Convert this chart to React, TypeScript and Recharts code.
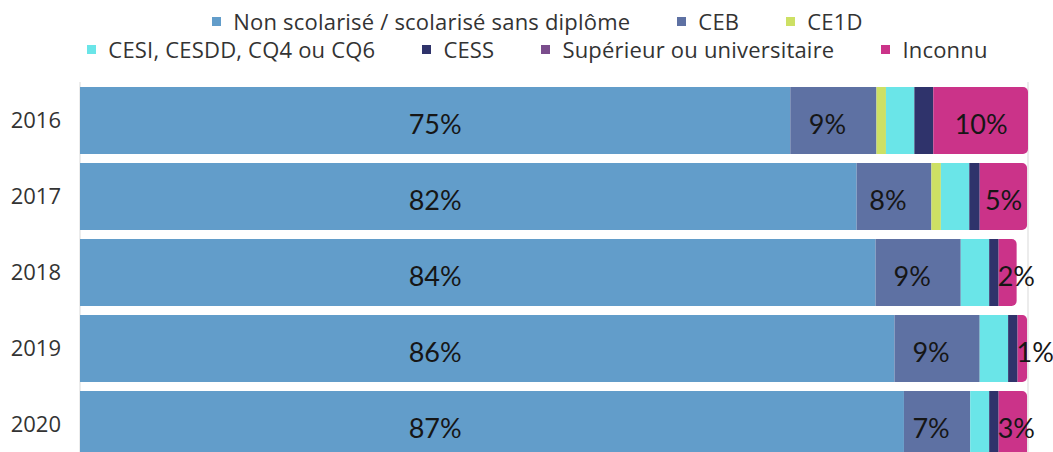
import { Fragment } from "react";
import { Bar, BarChart, CartesianGrid, LabelList, Legend, XAxis, YAxis } from "recharts";

const YEARS = ["2016", "2017", "2018", "2019", "2020"];

const NON_SCOLARISE = [75.0, 82.0, 84.0, 86.0, 87.0];
const CEB = [9.1, 7.9, 9.0, 9.0, 7.0];
const CE1D = [1.0, 1.0, 0, 0, 0];
const CESI = [3.0, 3.0, 3.0, 3.0, 2.0];
const CESS = [2.0, 1.1, 1.0, 1.0, 1.0];
const SUPERIEUR = [0, 0, 0, 0, 0];
const INCONNU = [10.0, 5.0, 1.9, 1.0, 3.0];

const X_TICKS = [0, 25, 50, 75, 100];

type LabelMode = "none" | "common" | "center" | "fit";
type Series = { key: string; name: string; color: string; values: number[]; label: LabelMode };

const SERIES: Series[] = [
  { key: "nonScol", name: "Non scolarisé / scolarisé sans diplôme", color: "#629dca", values: NON_SCOLARISE, label: "common" },
  { key: "ceb", name: "CEB", color: "#5e71a3", values: CEB, label: "center" },
  { key: "ce1d", name: "CE1D", color: "#cde064", values: CE1D, label: "none" },
  { key: "cesi", name: "CESI, CESDD, CQ4 ou CQ6", color: "#6ae5e8", values: CESI, label: "none" },
  { key: "cess", name: "CESS", color: "#2f336b", values: CESS, label: "none" },
  { key: "sup", name: "Supérieur ou universitaire", color: "#7a4d8c", values: SUPERIEUR, label: "none" },
  { key: "inconnu", name: "Inconnu", color: "#cb3389", values: INCONNU, label: "fit" },
];

// legend wraps after the third entry
const LEGEND_BREAK_AFTER = "ce1d";

const rows = YEARS.map((year, i) => {
  const row: Record<string, string | number> = { year };
  SERIES.forEach((s) => {
    row[s.key] = s.values[i];
  });
  return row;
});

const LABEL_FONT = { fontFamily: "Lato, sans-serif", fontSize: 27, fill: "#161616" };
const pct = (v: unknown) => `${Math.round(Number(v))}%`;

function TopLegend() {
  return (
    <div
      style={{
        height: 82,
        boxSizing: "border-box",
        paddingTop: 7,
        paddingLeft: 22,
        display: "flex",
        flexWrap: "wrap",
        justifyContent: "center",
        alignContent: "flex-start",
        columnGap: 47,
        fontFamily: "'Open Sans', sans-serif",
        fontSize: 22,
        letterSpacing: 0.2,
        lineHeight: "28px",
        color: "#333",
      }}
    >
      {SERIES.map((s) => (
        <Fragment key={s.key}>
          <div style={{ display: "flex", alignItems: "center", whiteSpace: "nowrap" }}>
            <span style={{ width: 9, height: 9, background: s.color, marginRight: 12, display: "inline-block" }} />
            <span>{s.name}</span>
          </div>
          {s.key === LEGEND_BREAK_AFTER && <div style={{ flexBasis: "100%", height: 0 }} />}
        </Fragment>
      ))}
    </div>
  );
}

type LabelProps = { x?: number; y?: number; width?: number; height?: number; value?: number | string };

// first series: every label sits in the middle of the shortest bar's span
function CommonLabel(props: LabelProps) {
  const { x = 0, y = 0, width = 0, height = 0, value } = props;
  const v = Number(value);
  if (!v) return null;
  const minValue = Math.min(...NON_SCOLARISE);
  const cx = x + ((width / v) * minValue) / 2;
  return (
    <text x={cx} y={y + height / 2 + 3} textAnchor="middle" dominantBaseline="central" style={LABEL_FONT}>
      {pct(v)}
    </text>
  );
}

function CenterLabel(props: LabelProps) {
  const { x = 0, y = 0, width = 0, height = 0, value } = props;
  if (!Number(value)) return null;
  return (
    <text x={x + width / 2 - 6} y={y + height / 2 + 3} textAnchor="middle" dominantBaseline="central" style={LABEL_FONT}>
      {pct(value)}
    </text>
  );
}

// last series: centred, but never starting left of the segment
function FitLabel(props: LabelProps) {
  const { x = 0, y = 0, width = 0, height = 0, value } = props;
  if (!Number(value)) return null;
  const text = pct(value);
  const textWidth = (text.length - 1) * 15 + 22;
  const start = Math.max(x - 1, x + width / 2 - textWidth / 2);
  return (
    <text x={start} y={y + height / 2 + 3} textAnchor="start" dominantBaseline="central" style={LABEL_FONT}>
      {text}
    </text>
  );
}

export default function App() {
  return (
    <div style={{ position: "absolute", left: 0, top: 0, background: "#fff" }}>
      <BarChart
        width={1053}
        height={462}
        data={rows}
        layout="vertical"
        margin={{ top: 0, right: 25, bottom: 0, left: 0 }}
        barSize={67}
      >
        <CartesianGrid horizontal={false} stroke="#d9d9d9" />
        <XAxis
          type="number"
          domain={[0, 100]}
          ticks={X_TICKS}
          tick={false}
          axisLine={false}
          tickLine={false}
          height={0}
        />
        <YAxis
          type="category"
          dataKey="year"
          width={80}
          axisLine={false}
          tickLine={false}
          tickSize={0}
          tickMargin={19}
          tick={{ fontFamily: "'Open Sans', sans-serif", fontSize: 22, fill: "#333" }}
        />
        <Legend verticalAlign="top" wrapperStyle={{ top: 0, left: 0, width: 1053 }} content={() => <TopLegend />} />
        {SERIES.map((s) => (
          <Bar
            key={s.key}
            dataKey={s.key}
            name={s.name}
            stackId="a"
            fill={s.color}
            isAnimationActive={false}
            radius={s.key === "inconnu" ? [0, 5, 5, 0] : 0}
          >
            {s.label === "common" && <LabelList dataKey={s.key} content={(p) => <CommonLabel {...(p as LabelProps)} />} />}
            {s.label === "center" && <LabelList dataKey={s.key} content={(p) => <CenterLabel {...(p as LabelProps)} />} />}
            {s.label === "fit" && <LabelList dataKey={s.key} content={(p) => <FitLabel {...(p as LabelProps)} />} />}
          </Bar>
        ))}
      </BarChart>
    </div>
  );
}
